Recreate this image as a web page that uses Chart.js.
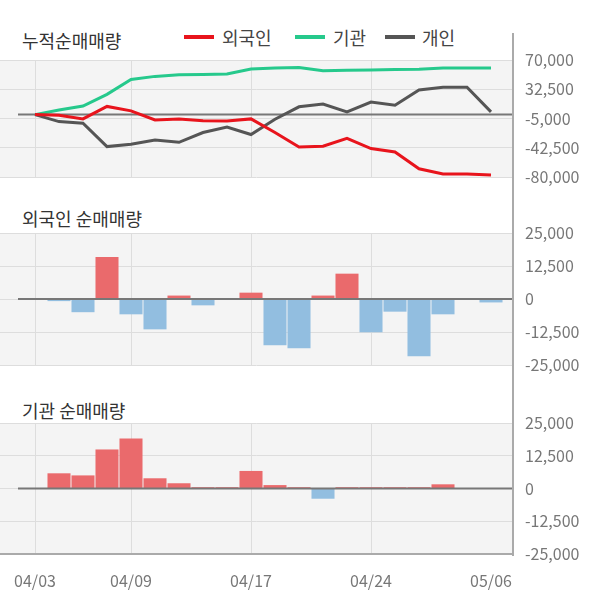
<!DOCTYPE html>
<html><head><meta charset="utf-8">
<script src="https://cdn.jsdelivr.net/npm/chart.js@4.4.1/dist/chart.umd.min.js"></script>
<style>
html,body{margin:0;padding:0;background:#fff;width:600px;height:604px;overflow:hidden;font-family:"Noto Sans CJK KR","Noto Sans",sans-serif;}
canvas{position:absolute;left:0;}
.t{position:absolute;left:22px;font-size:18px;color:#333;line-height:20px;white-space:nowrap;}
.lg{position:absolute;top:27px;font-size:18px;color:#444;line-height:20px;white-space:nowrap;}
.sw{position:absolute;width:30px;height:4px;top:35px;}
#vline{position:absolute;left:512px;top:33px;width:2px;height:523px;background:#aaa;}
</style></head>
<body>
<div class="t" style="top:30px">누적순매매량</div>
<div class="sw" style="left:184px;background:#e8141c"></div><div class="lg" style="left:222px">외국인</div>
<div class="sw" style="left:295px;background:#26c98c"></div><div class="lg" style="left:333px">기관</div>
<div class="sw" style="left:385px;background:#555"></div><div class="lg" style="left:422px">개인</div>
<div class="t" style="top:208px">외국인 순매매량</div>
<div class="t" style="top:400px">기관 순매매량</div>
<canvas id="c1" width="600" height="145" style="top:45px"></canvas>
<canvas id="c2" width="600" height="160" style="top:220px"></canvas>
<canvas id="c3" width="600" height="194" style="top:410px"></canvas>
<div id="vline"></div>
<script>
const dates = ['04/03','04/04','04/05','04/08','04/09','04/11','04/12','04/15','04/16','04/17','04/18','04/19','04/22','04/23','04/24','04/25','04/26','04/29','04/30','05/06'];
const tickLabels = ['04/03','04/09','04/17','04/24','05/06'];
const foreignCum = [0,-800,-5500,10500,4800,-6800,-5500,-8000,-8200,-5500,-23000,-41500,-40500,-30500,-43500,-48000,-69500,-76000,-76000,-77500];
const instCum = [0,6000,11000,26000,45000,49000,51000,51500,52000,58500,59800,60300,56300,56800,57300,57800,58300,59900,59900,59900];
const indivCum = [0,-9000,-11000,-41000,-38000,-32500,-35500,-23000,-16000,-25500,-6000,10000,13500,3500,16000,12000,31500,35000,35000,3500];
const foreignNet = [0,-800,-5000,15900,-5800,-11500,1300,-2400,0,2400,-17500,-18700,1300,9600,-12600,-4800,-21700,-5800,0,-1300];
const instNet = [0,5800,5000,14900,19100,3900,2000,500,500,6700,1300,500,-3900,500,500,500,500,1600,0,0];
const cumAxis = {min:-80000, max:70000, step:37500};
const netAxis = {min:-25000, max:25000, step:12500};

const F = '"Noto Sans CJK KR","Noto Sans",sans-serif';
const xMin = -35/24, xMax = 19 + 22/24;
const toXY = arr => arr.map((v,i)=>({x:i,y:v}));
const labelAt = v => (Number.isInteger(v) && v >= 0 && tickLabels.includes(dates[v])) ? dates[v] : null;

const bgPlugin = {id:'bg', beforeDraw(chart){const {ctx, chartArea:a}=chart; ctx.save(); ctx.fillStyle='#f4f4f4'; ctx.fillRect(a.left,a.top,a.right-a.left,a.bottom-a.top); ctx.restore();}};
function zeroPlugin(after){
  const fn = function(chart){const y=chart.scales.y.getPixelForValue(0); const ctx=chart.ctx; ctx.save(); ctx.strokeStyle='#777'; ctx.lineWidth=2; ctx.beginPath(); ctx.moveTo(18,y); ctx.lineTo(chart.chartArea.right,y); ctx.stroke(); ctx.restore();};
  return after ? {id:'zero', afterDatasetsDraw:fn} : {id:'zero', beforeDatasetsDraw:fn};
}
function xScale(show){
  return {type:'linear', min:xMin, max:xMax, bounds:'ticks', offset:false,
    afterFit: s => { s.paddingLeft = 0; s.paddingRight = 0; s.height = show ? 50 : 0; },
    grid:{offset:false, drawTicks:false, lineWidth:1, color: c => (c.tick && c.tick.value === dates.length-1) ? 'rgba(0,0,0,0)' : '#dddddd'},
    border:{display:false},
    ticks:{display:show, stepSize:1, includeBounds:false, autoSkip:false, maxRotation:0, minRotation:0, padding:17, color:'#777', font:{size:16, family:F}, callback: v => labelAt(v)}};
}
function yScale(ax, dark){
  return {position:'right', min:ax.min, max:ax.max,
    afterFit: s => { s.width = 87; s.paddingTop = 0; s.paddingBottom = 0; },
    grid:{drawTicks:false, color: c => (dark && c.tick && c.tick.value===ax.min) ? '#aaaaaa' : '#dddddd', lineWidth: c => (dark && c.tick && c.tick.value===ax.min) ? 2 : 1},
    border:{display:false},
    ticks:{stepSize:ax.step, padding:12, color:'#777', font:{size:16, family:F}, callback: v => v.toLocaleString('en-US')}};
}
const common = {responsive:false, animation:false, devicePixelRatio:1, plugins:{legend:{display:false}, tooltip:{enabled:false}}};

new Chart(document.getElementById('c1'), {
  type:'line',
  data:{datasets:[
    {label:'외국인', data:toXY(foreignCum), borderColor:'#e8141c', borderWidth:3, pointRadius:0, tension:0, fill:false},
    {label:'기관', data:toXY(instCum), borderColor:'#26c98c', borderWidth:3, pointRadius:0, tension:0, fill:false},
    {label:'개인', data:toXY(indivCum), borderColor:'#555555', borderWidth:3, pointRadius:0, tension:0, fill:false}
  ]},
  options:Object.assign({}, common, {layout:{padding:{top:15,bottom:13,left:0,right:0}}, scales:{x:xScale(false), y:yScale(cumAxis,false)}}),
  plugins:[bgPlugin, zeroPlugin(false)]
});
function barChart(id, vals, padTop, padBottom, showX, dark){
  new Chart(document.getElementById(id), {
    type:'bar',
    data:{datasets:[{data:toXY(vals), backgroundColor: c => (c.raw && c.raw.y < 0) ? '#92bee0' : '#ea6a6c', barPercentage:0.96, categoryPercentage:1, borderWidth:0}]},
    options:Object.assign({}, common, {layout:{padding:{top:padTop,bottom:padBottom,left:0,right:0}}, scales:{x:xScale(showX), y:yScale(netAxis,dark)}}),
    plugins:[bgPlugin, zeroPlugin(true)]
  });
}
barChart('c2', foreignNet, 13, 15, false, false);
barChart('c3', instNet, 13, 0, true, true);
</script>
</body></html>
